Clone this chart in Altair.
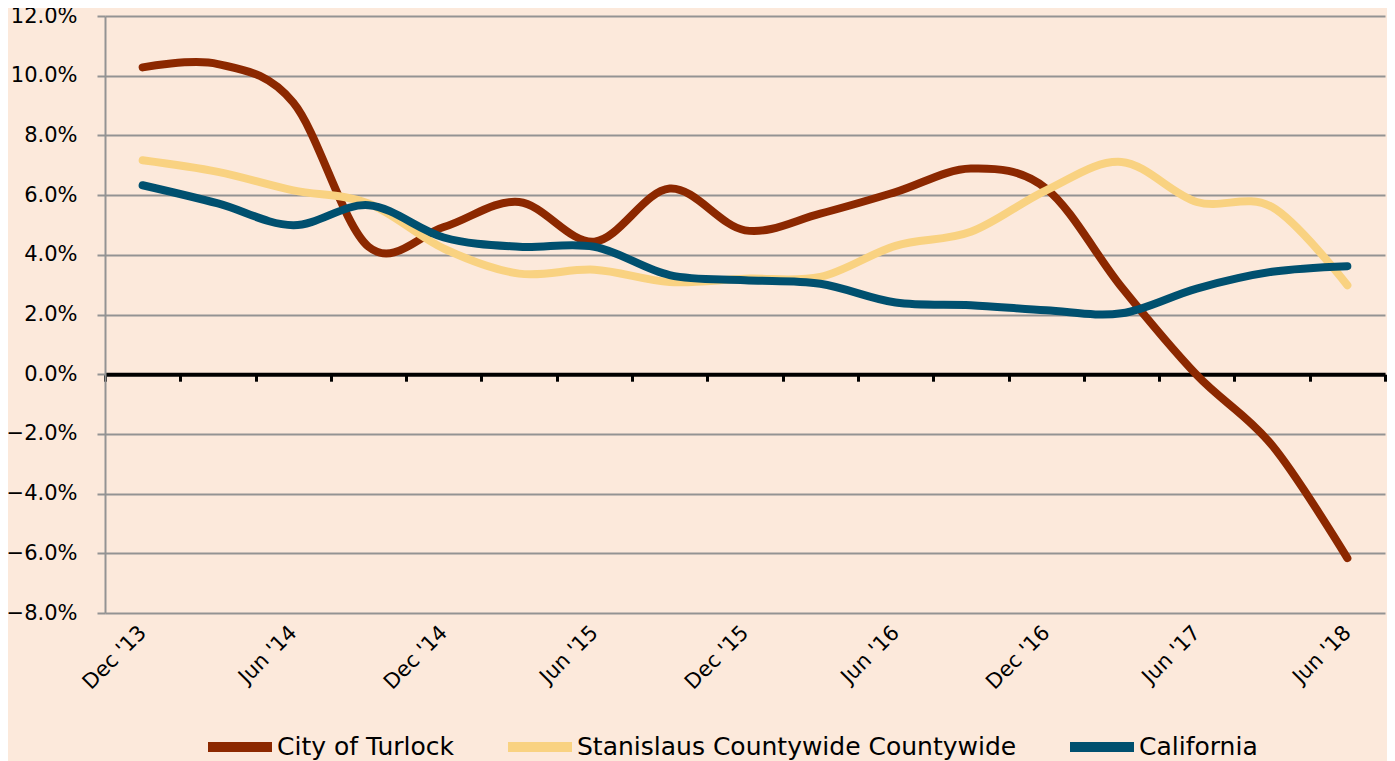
import altair as alt
import pandas as pd

periods = ["Dec '13", "Mar '14", "Jun '14", "Sep '14", "Dec '14", "Mar '15", "Jun '15",
           "Sep '15", "Dec '15", "Mar '16", "Jun '16", "Sep '16", "Dec '16", "Mar '17",
           "Jun '17", "Dec '17", "Jun '18"]
shown_labels = ["Dec '13", "Jun '14", "Dec '14", "Jun '15", "Dec '15", "Jun '16",
                "Dec '16", "Jun '17", "Jun '18"]

series_names = ["City of Turlock", "Stanislaus Countywide Countywide", "California"]
series_colors = ["#8C2800", "#F9D281", "#00506F"]

turlock = [10.28, 10.39, 9.1, 4.27, 4.93, 5.77, 4.44, 6.22, 4.82, 5.38, 6.1, 6.89, 6.22,
           2.92, -0.03, -2.38, -6.16]
stanislaus = [7.17, 6.78, 6.16, 5.72, 4.21, 3.37, 3.5, 3.09, 3.2, 3.26, 4.3, 4.77, 6.16,
              7.11, 5.77, 5.6, 2.98]
california = [6.33, 5.72, 4.99, 5.66, 4.58, 4.27, 4.27, 3.32, 3.15, 3.03, 2.4, 2.31, 2.14,
              2.04, 2.87, 3.43, 3.62]

y_ticks = [-8, -6, -4, -2, 0, 2, 4, 6, 8, 10, 12]

rows = []
for name, vals in zip(series_names, [turlock, stanislaus, california]):
    for p, v in zip(periods, vals):
        rows.append({"period": p, "series": name, "value": v})
df = pd.DataFrame(rows)

W, H = 1280, 597
FONT = "DejaVu Sans"
GRID = "#939393"

shown_js = "[" + ",".join("'" + s.replace("'", "\\'") + "'" for s in shown_labels) + "]"

chart = alt.Chart(df).mark_line(
    interpolate="cardinal", strokeWidth=8, strokeCap="round", strokeJoin="round"
).encode(
    x=alt.X("period:N", sort=periods, scale=alt.Scale(paddingInner=0, paddingOuter=0),
            axis=alt.Axis(title=None, offset=-0.4 * H, domainColor="black", domainWidth=4,
                          tickColor="black", tickWidth=3, tickSize=7, tickBand="extent",
                          labelAngle=315, labelAlign="right", labelBaseline="middle",
                          labelPadding=248, labelFont=FONT, labelFontSize=21,
                          labelColor="black", labelOverlap=False, labelBound=False,
                          grid=False,
                          labelExpr="indexof(" + shown_js + ", datum.value) >= 0 ? datum.value : ''")),
    y=alt.Y("value:Q", scale=alt.Scale(domain=[-8, 12], nice=False, zero=False),
            axis=alt.Axis(title=None, values=y_ticks,
                          labelExpr="format(datum.value, '.1f') + '%'",
                          gridColor=GRID, gridWidth=2, domainColor=GRID, domainWidth=2,
                          tickColor=GRID, tickWidth=2, tickSize=8, labelPadding=20,
                          labelFont=FONT, labelFontSize=21, labelColor="black")),
    color=alt.Color("series:N", sort=series_names,
                    scale=alt.Scale(domain=series_names, range=series_colors),
                    legend=alt.Legend(title=None, orient="none", direction="horizontal",
                                      legendX=98, legendY=694, padding=0,
                                      symbolType="stroke",
                                      symbolSize=4096, symbolStrokeWidth=10,
                                      labelFont=FONT, labelFontSize=25, labelColor="black",
                                      labelLimit=800, labelOffset=0, columnPadding=33)),
    order=alt.Order("series:N"),
).properties(
    width=W, height=H,
    autosize=alt.AutoSizeParams(type="none"),
    padding={"left": 97, "top": 8, "right": 2, "bottom": 148},
    background="#FCE9DB",
).configure_view(strokeWidth=0)

chart.save("out.html", embed_options={"renderer": "svg", "actions": False})
